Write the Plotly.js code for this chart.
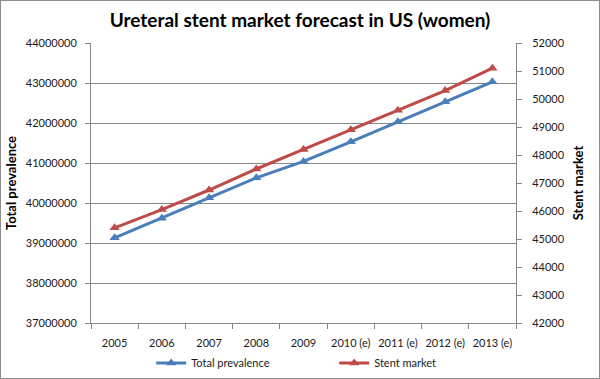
<!DOCTYPE html>
<html>
<head>
<meta charset="utf-8">
<script src="https://cdn.plot.ly/plotly-3.0.1.min.js"></script>
<style>
html,body{margin:0;padding:0;background:#fff;}
#wrap{position:relative;width:600px;height:379px;}
#chart{width:600px;height:379px;}
#frame{position:absolute;left:0;top:0;width:600px;height:379px;box-sizing:border-box;border:1px solid #8c8c8c;pointer-events:none;}
</style>
</head>
<body>
<div id="wrap"><div id="chart"></div><div id="frame"></div></div>
<script>
var years = ["2005","2006","2007","2008","2009","2010 (e)","2011 (e)","2012 (e)","2013 (e)"];
var totalPrevalence = [39130000, 39620000, 40130000, 40630000, 41040000, 41530000, 42030000, 42530000, 43030000];
var stentMarket = [45400, 46050, 46750, 47500, 48200, 48900, 49600, 50300, 51100];
var leftTicks = [37000000, 38000000, 39000000, 40000000, 41000000, 42000000, 43000000, 44000000];
var rightTicks = [42000, 43000, 44000, 45000, 46000, 47000, 48000, 49000, 50000, 51000, 52000];

var FONT = "Lato, 'Open Sans', sans-serif";
var traces = [
  {x: years, y: totalPrevalence, name: "Total prevalence", type: "scatter", mode: "lines+markers",
   line: {color: "#4a7ebb", width: 3}, marker: {symbol: "triangle-up", size: 9, color: "#4a7ebb"}, yaxis: "y"},
  {x: years, y: stentMarket, name: "Stent market", type: "scatter", mode: "lines+markers",
   line: {color: "#be4b48", width: 3}, marker: {symbol: "triangle-up", size: 9, color: "#be4b48"}, yaxis: "y2"}
];
var layout = {
  width: 600, height: 379,
  margin: {l: 91, r: 84, t: 43, b: 56},
  paper_bgcolor: "#fff", plot_bgcolor: "#fff",
  font: {family: FONT, size: 11, color: "#1a1a1a"},
  title: {text: "<b>Ureteral stent market forecast in US (women)</b>", font: {family: FONT, size: 19, color: "#000"},
          x: 0.5, xanchor: "center", y: 0.945, yanchor: "middle"},
  showlegend: true,
  legend: {orientation: "h", xref: "container", yref: "container", x: 0.252, xanchor: "left", y: 0.042, yanchor: "middle",
           font: {family: FONT, size: 11, color: "#1a1a1a"}, entrywidth: 138, entrywidthmode: "pixels", bgcolor: "rgba(0,0,0,0)"},
  xaxis: {type: "category", range: [-0.5, 8.5], tickson: "boundaries", ticks: "outside", ticklen: 5, tickcolor: "#868686",
          tickangle: 0, showline: true, linecolor: "#868686", linewidth: 1, showgrid: false, fixedrange: true, automargin: false,
          ticklabelstandoff: 10,
          tickfont: {family: FONT, size: 11, color: "#1a1a1a"}},
  yaxis: {range: [37000000, 44000000], tickvals: leftTicks, tickformat: "d", ticks: "outside", ticklen: 5, tickcolor: "#868686",
          ticklabelstandoff: 6, automargin: false,
          showline: true, linecolor: "#868686", showgrid: true, gridcolor: "#868686", gridwidth: 1, zeroline: false,
          tickfont: {family: FONT, size: 11, color: "#1a1a1a"},
          title: {text: "<b>Total prevalence</b>", font: {family: FONT, size: 13, color: "#000"}, standoff: 6}},
  yaxis2: {range: [42000, 52000], tickvals: rightTicks, tickformat: "d", overlaying: "y", side: "right", ticks: "outside", ticklen: 5,
           ticklabelstandoff: 8, automargin: false,
           tickcolor: "#868686", showline: true, linecolor: "#868686", showgrid: false, zeroline: false,
           tickfont: {family: FONT, size: 11, color: "#1a1a1a"},
           title: {text: "<b>Stent market</b>", font: {family: FONT, size: 13, color: "#000"}, standoff: 10}}
};
Plotly.newPlot("chart", traces, layout, {staticPlot: true, displayModeBar: false});
</script>
</body>
</html>
